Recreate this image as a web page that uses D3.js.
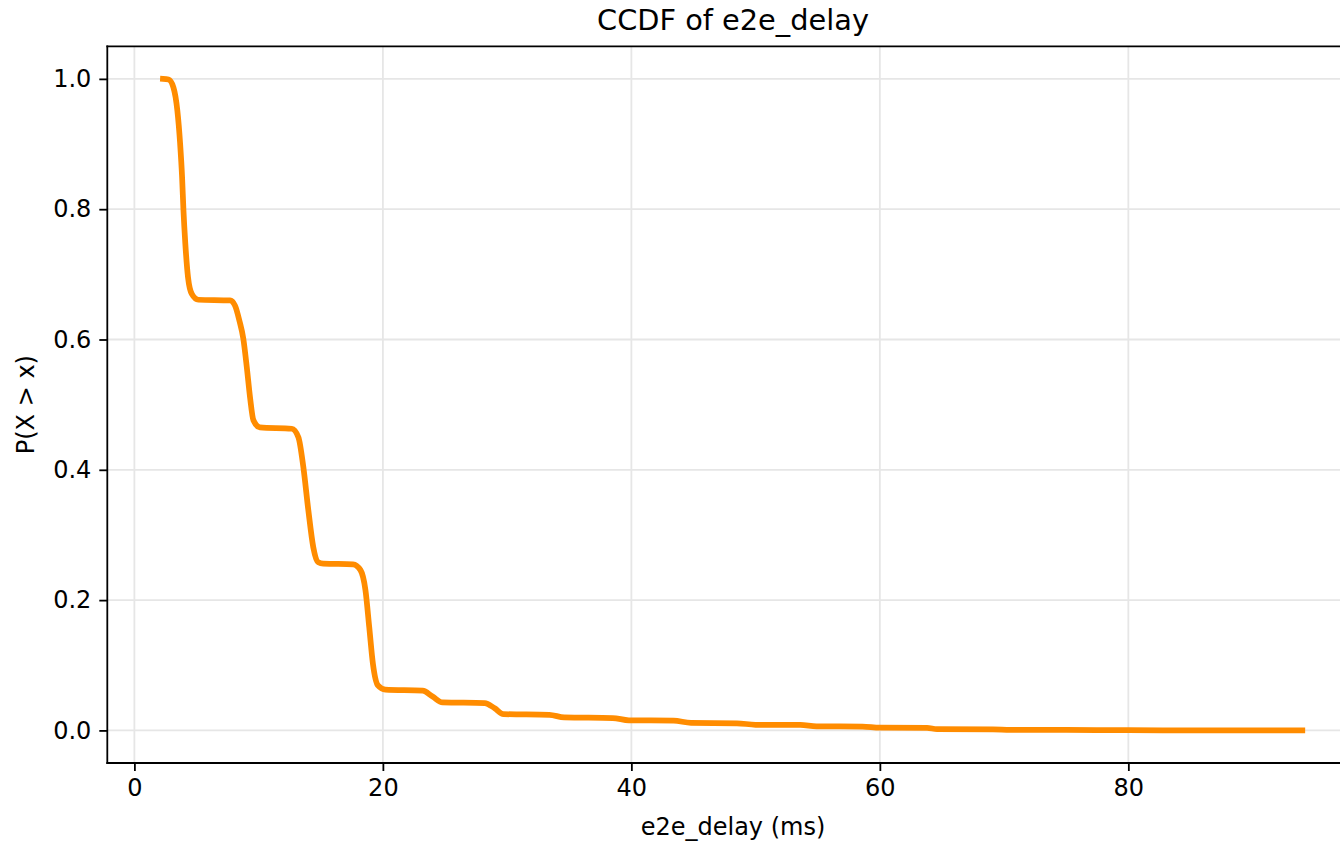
<!DOCTYPE html>
<html>
<head>
<meta charset="utf-8">
<script src="https://cdn.jsdelivr.net/npm/d3@7"></script>
<style>
  body { margin: 0; background: #ffffff; overflow: hidden; }
  svg { display: block; font-family: "DejaVu Sans", sans-serif; }
</style>
</head>
<body>
<div id="chart"></div>
<script>
// data
var delayMs = [2.3, 2.75, 3.14, 3.46, 3.68, 3.84, 3.95, 4.10, 4.32, 4.62, 5.15,
  7.70, 8.10, 8.45, 8.77, 9.05, 9.31, 9.58, 10.1,
  12.67, 13.2, 13.6, 14.0, 14.4, 14.8, 15.2,
  17.6, 18.2, 18.6, 18.9, 19.2, 19.6, 20.2,
  23.2, 24.0, 24.8, 28.2, 29.0, 29.7, 33.4, 34.6, 38.5, 39.8, 43.4, 44.8, 48.5, 50.0,
  53.6, 54.9, 58.6, 60.0, 63.8, 64.6, 69.1, 70.5, 75.0, 80.0, 85.0, 94.0];
var ccdf = [1.0, 0.999, 0.987, 0.951, 0.901, 0.849, 0.798, 0.747, 0.695, 0.670, 0.661,
  0.660, 0.652, 0.629, 0.601, 0.557, 0.511, 0.476, 0.465,
  0.463, 0.450, 0.404, 0.338, 0.281, 0.258, 0.256,
  0.255, 0.246, 0.215, 0.159, 0.102, 0.069, 0.0625,
  0.061, 0.052, 0.043, 0.042, 0.034, 0.025, 0.024, 0.020, 0.019, 0.0155, 0.015, 0.0115, 0.011, 0.0087,
  0.0085, 0.0063, 0.006, 0.0042, 0.004, 0.002, 0.0018, 0.001, 0.0008, 0.0004, 0.0001, 0.0];
var xTicks = [0, 20, 40, 60, 80];
var yTicks = [0.0, 0.2, 0.4, 0.6, 0.8, 1.0];

var points = delayMs.map(function(d, i) { return {x: d, y: ccdf[i]}; });

var svgWidth = 1340;
var svgHeight = 841;

// axes box (right side runs past the picture edge, like the reference)
var plotLeft = 107.3, plotRight = 1358.7, plotTop = 46.3, plotBottom = 763;

var svg = d3.select("#chart")
  .append("svg")
  .attr("width", svgWidth)
  .attr("height", svgHeight);

var xScale = d3.scaleLinear()
  .domain([-2.18, 98.54])
  .range([plotLeft, plotRight]);

var yScale = d3.scaleLinear()
  .domain([-0.05, 1.05])
  .range([plotBottom, plotTop]);

// grid
svg.append("g")
  .selectAll("line")
  .data(xTicks)
  .enter()
  .append("line")
  .attr("x1", d => xScale(d))
  .attr("x2", d => xScale(d))
  .attr("y1", plotTop)
  .attr("y2", plotBottom)
  .attr("stroke", "#e6e6e6")
  .attr("stroke-width", 1.8);

svg.append("g")
  .selectAll("line")
  .data(yTicks)
  .enter()
  .append("line")
  .attr("x1", plotLeft)
  .attr("x2", plotRight)
  .attr("y1", d => yScale(d))
  .attr("y2", d => yScale(d))
  .attr("stroke", "#e6e6e6")
  .attr("stroke-width", 1.8);

// the curve
svg.append("clipPath")
  .attr("id", "plotClip")
  .append("rect")
  .attr("x", plotLeft)
  .attr("y", plotTop)
  .attr("width", plotRight - plotLeft)
  .attr("height", plotBottom - plotTop);

var line = d3.line()
  .x(d => xScale(d.x))
  .y(d => yScale(d.y))
  .curve(d3.curveMonotoneX);

svg.append("path")
  .datum(points)
  .attr("clip-path", "url(#plotClip)")
  .attr("d", line)
  .attr("fill", "none")
  .attr("stroke", "#ff8c00")
  .attr("stroke-width", 5.75)
  .attr("stroke-linejoin", "round")
  .attr("stroke-linecap", "square");

// axes
var bottomAxis = d3.axisBottom(xScale)
  .tickValues(xTicks)
  .tickFormat(d3.format("d"))
  .tickSize(8)
  .tickPadding(8)
  .tickSizeOuter(0);

var leftAxis = d3.axisLeft(yScale)
  .tickValues(yTicks)
  .tickFormat(d3.format(".1f"))
  .tickSize(8)
  .tickPadding(8)
  .tickSizeOuter(0);

var xAxisG = svg.append("g")
  .attr("transform", `translate(0, ${plotBottom})`)
  .call(bottomAxis);

var yAxisG = svg.append("g")
  .attr("transform", `translate(${plotLeft}, 0)`)
  .call(leftAxis);

[xAxisG, yAxisG].forEach(function(g) {
  g.select(".domain").remove();
  g.selectAll(".tick line").attr("stroke", "#000").attr("stroke-width", 1.8);
  g.selectAll(".tick text")
    .attr("fill", "#000")
    .attr("font-size", "24px")
    .attr("font-family", "DejaVu Sans, sans-serif");
});

// spines: left, top, bottom (the right one lies past the picture edge)
var spines = [
  [plotLeft, plotTop, plotLeft, plotBottom],
  [plotLeft, plotTop, plotRight, plotTop],
  [plotLeft, plotBottom, plotRight, plotBottom]
];
svg.append("g")
  .selectAll("line")
  .data(spines)
  .enter()
  .append("line")
  .attr("x1", d => d[0])
  .attr("y1", d => d[1])
  .attr("x2", d => d[2])
  .attr("y2", d => d[3])
  .attr("stroke", "#000")
  .attr("stroke-width", 1.8)
  .attr("stroke-linecap", "square");

// title and axis labels
svg.append("text")
  .attr("x", (plotLeft + plotRight) / 2)
  .attr("y", 29.5)
  .attr("text-anchor", "middle")
  .attr("font-size", "28.8px")
  .text("CCDF of e2e_delay");

svg.append("text")
  .attr("x", (plotLeft + plotRight) / 2)
  .attr("y", 835)
  .attr("text-anchor", "middle")
  .attr("font-size", "24px")
  .text("e2e_delay (ms)");

svg.append("text")
  .attr("transform", `translate(34, ${(plotTop + plotBottom) / 2}) rotate(-90)`)
  .attr("text-anchor", "middle")
  .attr("font-size", "24px")
  .text("P(X > x)");
</script>
</body>
</html>
